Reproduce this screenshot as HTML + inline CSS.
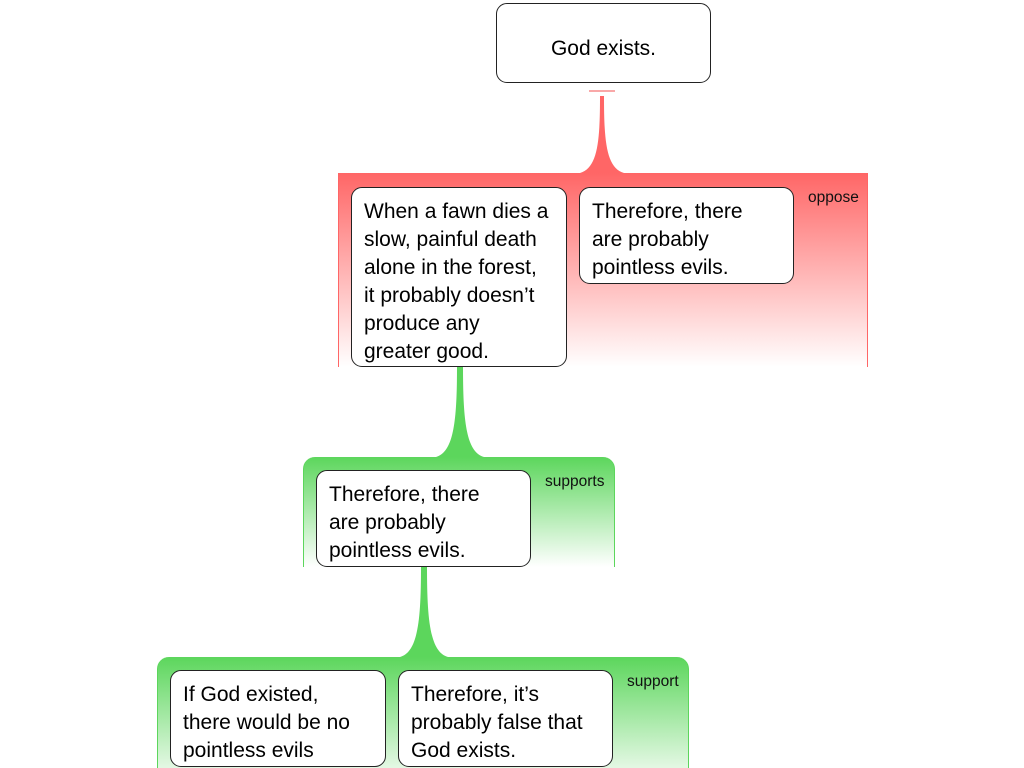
<!DOCTYPE html>
<html><head><style>
body{margin:0;width:1024px;height:768px;background:#fff;position:relative;overflow:hidden;font-family:"Liberation Sans",sans-serif}
.b{position:absolute;background:#fff;border:1px solid #222;border-radius:11px;box-sizing:border-box;font-size:21px;line-height:28px;color:#000;padding:10px 12px;white-space:nowrap}
.r{position:absolute;box-sizing:border-box}
.l{position:absolute;font-size:15.5px;color:#111}
</style></head><body>
<svg width="1024" height="768" style="position:absolute;left:0;top:0">
<rect x="589" y="90" width="26" height="2" fill="#f9a8a8"/>
<path d="M600 96 L604 96 C604 140 606 168 624 173 L580 173 C598 168 600 140 600 96Z" fill="#f66"/>
<path d="M457 366 L463 366 C463 420 466 452 484 457 L436 457 C454 452 457 420 457 366Z" fill="#5cd65c"/>
<path d="M421 566 L427 566 C427 620 430 652 448 657 L400 657 C418 652 421 620 421 566Z" fill="#5cd65c"/>
</svg>
<div class="r" style="left:338px;top:173px;width:530px;height:194px;background:linear-gradient(#f66,#fff);border-left:1px solid #f66;border-right:1px solid #f66"></div>
<div class="r" style="left:303px;top:457px;width:312px;height:110px;border-radius:12px 12px 0 0;background:linear-gradient(#5cd65c,#fff);border-left:1px solid #5cd65c;border-right:1px solid #5cd65c"></div>
<div class="r" style="left:157px;top:657px;width:532px;height:111px;border-radius:12px 12px 0 0;background:linear-gradient(#5cd65c,#fff 120%);border-left:1px solid #5cd65c;border-right:1px solid #5cd65c"></div>
<div class="l" style="left:808px;top:189px">oppose</div>
<div class="l" style="left:545px;top:473px">supports</div>
<div class="l" style="left:627px;top:673px">support</div>
<div class="b" style="left:496px;top:3px;width:215px;height:80px;text-align:center;padding-top:33px;line-height:24px">God exists.</div>
<div class="b" style="left:351px;top:187px;width:216px;height:180px">When a fawn dies a<br>slow, painful death<br>alone in the forest,<br>it probably doesn’t<br>produce any<br>greater good.</div>
<div class="b" style="left:579px;top:187px;width:215px;height:97px">Therefore, there<br>are probably<br>pointless evils.</div>
<div class="b" style="left:316px;top:470px;width:215px;height:97px">Therefore, there<br>are probably<br>pointless evils.</div>
<div class="b" style="left:170px;top:670px;width:216px;height:97px">If God existed,<br>there would be no<br>pointless evils</div>
<div class="b" style="left:398px;top:670px;width:215px;height:97px">Therefore, it’s<br>probably false that<br>God exists.</div>
</body></html>
